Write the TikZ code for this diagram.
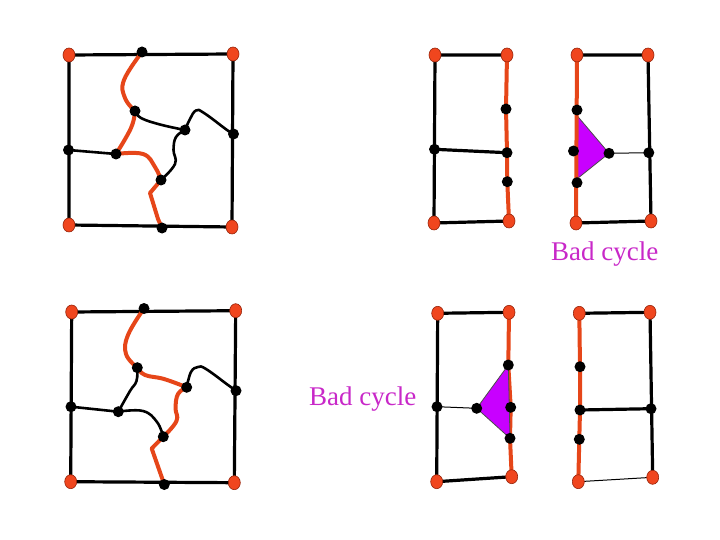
\documentclass[tikz,border=0pt]{standalone}
\usepackage{fontspec}
\setmainfont{Liberation Serif}
\usetikzlibrary{shapes.geometric}
\definecolor{rline}{RGB}{230,70,25}
\definecolor{rdot}{RGB}{240,70,30}
\definecolor{rdotline}{RGB}{150,35,10}
\definecolor{purp}{RGB}{200,0,255}
\definecolor{magtext}{RGB}{200,40,200}
\pgfdeclarelayer{bg}
\pgfsetlayers{bg,main}
\tikzset{
  rv/.style={ellipse, fill=rdot, draw=rdotline, line width=0.6pt, minimum width=12pt, minimum height=14pt, inner sep=0pt},
  bv/.style={circle, fill=black, minimum size=11pt, inner sep=0pt},
  bedge/.style={line width=3.2pt, black},
  redge/.style={line width=4pt, rline, line cap=round, line join=round},
  cedge/.style={line width=2.6pt, black, line cap=round},
  tedge/.style={line width=1pt, black},
  tri/.style={fill=purp, draw=black!70, line width=0.8pt},
  lbl/.style={text=magtext, font=\fontsize{27}{30}\selectfont, anchor=base west, inner sep=0pt}
}
\begin{document}
\begin{tikzpicture}[x=1pt,y=-1pt]
\useasboundingbox (0,0) rectangle (720,540);
% ---------- Panel A (top left)
\node[rv] (A1) at (69,55) {};
\node[rv] (A2) at (233,54) {};
\node[rv] (A3) at (69,225) {};
\node[rv] (A4) at (232,227) {};
\node[bv] (At) at (142,52) {};
\node[bv] (Al) at (68.5,150) {};
\node[bv] (Ar) at (233.5,134) {};
\node[bv] (Ab) at (162,228) {};
\node[bv] (Ai1) at (135,111) {};
\node[bv] (Ai2) at (185,130) {};
\node[bv] (Ai3) at (116,154) {};
\node[bv] (Ai4) at (161,180) {};
% ---------- Panel B (bottom left)
\node[rv] (B1) at (71.7,312) {};
\node[rv] (B2) at (235.7,310.7) {};
\node[rv] (B3) at (70.7,481.7) {};
\node[rv] (B4) at (234.3,482.7) {};
\node[bv] (Bt) at (144,308.5) {};
\node[bv] (Bl) at (71,406.7) {};
\node[bv] (Br) at (236,390.7) {};
\node[bv] (Bb) at (164.3,484.5) {};
\node[bv] (Bi1) at (137.3,367.7) {};
\node[bv] (Bi2) at (186.7,387.3) {};
\node[bv] (Bi3) at (118.3,411.7) {};
\node[bv] (Bi4) at (163.3,436.7) {};
% ---------- Panel C
\node[rv] (C1) at (435,55) {};
\node[rv] (C2) at (507,55) {};
\node[rv] (C3) at (434,223) {};
\node[rv] (C4) at (509,221) {};
\node[bv] (Cl) at (434.5,149.3) {};
\node[bv] (Cr1) at (506,109) {};
\node[bv] (Cr2) at (507,152.7) {};
\node[bv] (Cr3) at (507.3,181.7) {};
% ---------- Panel D
\node[rv] (D1) at (577,55) {};
\node[rv] (D2) at (648,55) {};
\node[rv] (D3) at (576,223) {};
\node[rv] (D4) at (651,221) {};
\node[bv] (Dl1) at (577,110) {};
\node[bv] (Dl2) at (573.5,151) {};
\node[bv] (Dl3) at (577,182.7) {};
\node[bv] (Dm) at (609,153.3) {};
\node[bv] (Dr) at (648.8,152.7) {};
% ---------- Panel E
\node[rv] (E1) at (437.7,313.3) {};
\node[rv] (E2) at (509,312.3) {};
\node[rv] (E3) at (436.7,481.7) {};
\node[rv] (E4) at (511.7,476.7) {};
\node[bv] (El) at (437,406.7) {};
\node[bv] (Em) at (476.7,408.3) {};
\node[bv] (Er1) at (508.3,365) {};
\node[bv] (Er2) at (510.7,407.3) {};
\node[bv] (Er3) at (510,438.3) {};
% ---------- Panel F
\node[rv] (F1) at (579.3,313.3) {};
\node[rv] (F2) at (650,312.3) {};
\node[rv] (F3) at (578.3,481.7) {};
\node[rv] (F4) at (652.7,477.3) {};
\node[bv] (Fl1) at (580,366.7) {};
\node[bv] (Fl2) at (580,410) {};
\node[bv] (Fl3) at (579.3,439.3) {};
\node[bv] (Fr) at (651,408.7) {};
% ---------- labels
\node[lbl] (L1) at (551,260) {Bad cycle};
\node[lbl] (L2) at (309,405.5) {Bad cycle};

\begin{pgfonlayer}{bg}
% Panel A
\draw[bedge] (A1.center) -- (A2.center) -- (A4.center) -- (A3.center) -- cycle;
\draw[cedge] (Al.center) -- (Ai3.center);
\draw[redge] plot[smooth, tension=0.7] coordinates {(At.center) (124,80) (125,98) (Ai1.center)};
\draw[redge] plot[smooth, tension=0.7] coordinates {(Ai1.center) (131,128) (Ai3.center)};
\draw[redge] plot[smooth, tension=0.7] coordinates {(Ai3.center) (143,154) (155,167) (Ai4.center)};
\draw[redge] (Ai4.center) -- (150,193) -- (158,219) -- (Ab.center);
\draw[cedge] plot[smooth, tension=0.7] coordinates {(Ai1.center) (141,118) (160,124.5) (Ai2.center)};
\draw[cedge] plot[smooth, tension=0.7] coordinates {(Ai2.center) (190,119) (196,110.5) (204,113) (227,130) (Ar.center)};
\draw[cedge] plot[smooth, tension=0.7] coordinates {(Ai2.center) (176,137) (173.5,150) (175,164) (Ai4.center)};
% Panel B
\draw[bedge] (B1.center) -- (B2.center) -- (B4.center) -- (B3.center) -- cycle;
\draw[cedge] (Bl.center) -- (Bi3.center);
\draw[redge] plot[smooth, tension=0.7] coordinates {(Bt.center) (128,335) (126,354) (Bi1.center)};
\draw[redge] plot[smooth, tension=0.7] coordinates {(Bi1.center) (145,375) (164,379) (Bi2.center)};
\draw[redge] plot[smooth, tension=0.7] coordinates {(Bi2.center) (178,394) (175.5,408) (176.5,421) (Bi4.center)};
\draw[redge] (Bi4.center) -- (151.7,448.5) -- (Bb.center);
\draw[cedge] plot[smooth, tension=0.7] coordinates {(Bi1.center) (136.5,381) (130,391) (Bi3.center)};
\draw[cedge] plot[smooth, tension=0.7] coordinates {(Bi3.center) (143,411) (157,422) (Bi4.center)};
\draw[cedge] plot[smooth, tension=0.7] coordinates {(Bi2.center) (191,372) (198,367) (206,369) (228,385) (Br.center)};
% Panel C
\draw[bedge] (C2.center) -- (C1.center) -- (C3.center) -- (C4.center);
\draw[bedge] (Cl.center) -- (Cr2.center);
\draw[redge] (C2.center) -- (Cr1.center) -- (Cr2.center) -- (Cr3.center) -- (C4.center);
% Panel D
\draw[tri] (576.5,115) -- (Dm.center) -- (577.5,178.5) -- cycle;
\draw[bedge] (D1.center) -- (D2.center) -- (D4.center) -- (D3.center);
\draw[tedge] (Dm.center) -- (Dr.center);
\draw[redge] (D1.center) -- (D3.center);
% Panel E
\draw[bedge] (E2.center) -- (E1.center) -- (E3.center) -- (E4.center);
\draw[tedge] (El.center) -- (Em.center);
\draw[redge] (E2.center) -- (Er1.center) -- (Er2.center) -- (Er3.center) -- (E4.center);
\draw[tri] (Er1.center) -- (Em.center) -- (Er3.center) -- cycle;
% Panel F
\draw[bedge] (F1.center) -- (F2.center) -- (F4.center);
\draw[bedge] (Fl2.center) -- (Fr.center);
\draw[tedge] (F3.center) -- (F4.center);
\draw[redge] (F1.center) -- (Fl1.center) -- (Fl2.center) -- (Fl3.center) -- (F3.center);
\end{pgfonlayer}
\end{tikzpicture}
\end{document}
